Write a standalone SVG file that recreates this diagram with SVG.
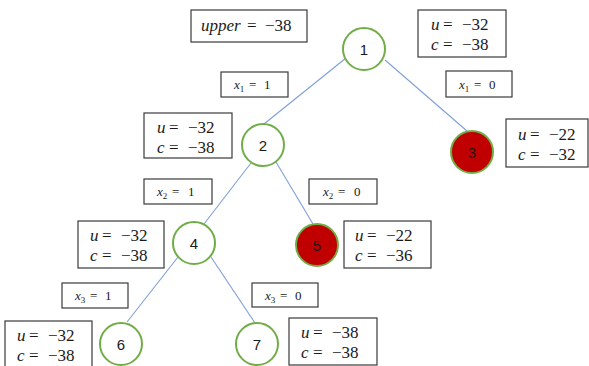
<svg xmlns="http://www.w3.org/2000/svg" width="589" height="366" viewBox="0 0 589 366">
<style>
.bg{fill:#ffffff}
.box{fill:#ffffff;stroke:#3a3a3a;stroke-width:1.2}
.node{fill:#ffffff;stroke:#70ad47;stroke-width:2}
.node.pruned{fill:#c00000}
.nl{font-family:"Liberation Sans","DejaVu Sans",sans-serif;font-size:15px;fill:#1a1a1a;text-anchor:middle}
.m{font-family:"Liberation Serif","DejaVu Serif",serif;font-size:17px;fill:#1a1a1a}
.s{font-family:"Liberation Serif","DejaVu Serif",serif;font-size:13px;fill:#1a1a1a}
.v{font-style:italic}
.sub{font-size:9px}
.edge{stroke:#7f9fd8;stroke-width:1.1;fill:none}
</style>
<rect class="bg" x="0" y="0" width="589" height="366"/>
<g id="connectors">
<line class="edge" x1="346" y1="58" x2="264" y2="124"/>
<line class="edge" x1="385" y1="60" x2="467" y2="131"/>
<line class="edge" x1="251" y1="163" x2="204" y2="224"/>
<line class="edge" x1="276" y1="162" x2="313" y2="224"/>
<line class="edge" x1="178" y1="257" x2="127" y2="322"/>
<line class="edge" x1="211" y1="257" x2="255" y2="323"/>
</g>
<g id="upper">
<rect class="box" x="191" y="10" width="116" height="32"/>
<text class="m" y="31"><tspan class="v" x="201">upper</tspan><tspan x="247">=</tspan><tspan x="265">−38</tspan></text>
</g>
<g id="node1">
<circle class="node" cx="364" cy="49" r="21"/>
<text class="nl" x="364" y="55">1</text>
</g>
<g id="node1-info">
<rect class="box" x="418" y="10" width="88" height="47"/>
<text class="m" y="30"><tspan class="v" x="431">u</tspan><tspan x="443">=</tspan><tspan x="462">−32</tspan></text>
<text class="m" y="50"><tspan class="v" x="431">c</tspan><tspan x="443">=</tspan><tspan x="462">−38</tspan></text>
</g>
<g id="label-x1-1">
<rect class="box" x="221" y="72" width="67" height="25"/>
<text class="s" y="89"><tspan class="v" x="234">x</tspan><tspan class="sub" dy="3">1</tspan><tspan x="249" dy="-3">=</tspan><tspan x="264">1</tspan></text>
</g>
<g id="label-x1-0">
<rect class="box" x="446" y="71" width="66" height="26"/>
<text class="s" y="89"><tspan class="v" x="459">x</tspan><tspan class="sub" dy="3">1</tspan><tspan x="474" dy="-3">=</tspan><tspan x="489">0</tspan></text>
</g>
<g id="node2">
<circle class="node" cx="263" cy="145" r="21"/>
<text class="nl" x="263" y="151">2</text>
</g>
<g id="node2-info">
<rect class="box" x="144" y="113" width="88" height="45"/>
<text class="m" y="133"><tspan class="v" x="157">u</tspan><tspan x="169">=</tspan><tspan x="188">−32</tspan></text>
<text class="m" y="153"><tspan class="v" x="157">c</tspan><tspan x="169">=</tspan><tspan x="188">−38</tspan></text>
</g>
<g id="node3">
<circle class="node pruned" cx="472" cy="152" r="21"/>
<text class="nl" x="472" y="158">3</text>
</g>
<g id="node3-info">
<rect class="box" x="506" y="119" width="82" height="48"/>
<text class="m" y="140"><tspan class="v" x="518">u</tspan><tspan x="530">=</tspan><tspan x="549">−22</tspan></text>
<text class="m" y="160"><tspan class="v" x="518">c</tspan><tspan x="530">=</tspan><tspan x="549">−32</tspan></text>
</g>
<g id="label-x2-1">
<rect class="box" x="144" y="179" width="68" height="25"/>
<text class="s" y="196"><tspan class="v" x="157">x</tspan><tspan class="sub" dy="3">2</tspan><tspan x="172" dy="-3">=</tspan><tspan x="188">1</tspan></text>
</g>
<g id="label-x2-0">
<rect class="box" x="309" y="179" width="68" height="25"/>
<text class="s" y="196"><tspan class="v" x="323">x</tspan><tspan class="sub" dy="3">2</tspan><tspan x="338" dy="-3">=</tspan><tspan x="354">0</tspan></text>
</g>
<g id="node4">
<circle class="node" cx="194" cy="243" r="21"/>
<text class="nl" x="194" y="249">4</text>
</g>
<g id="node4-info">
<rect class="box" x="78" y="221" width="86" height="47"/>
<text class="m" y="241"><tspan class="v" x="90">u</tspan><tspan x="102">=</tspan><tspan x="121">−32</tspan></text>
<text class="m" y="261"><tspan class="v" x="90">c</tspan><tspan x="102">=</tspan><tspan x="121">−38</tspan></text>
</g>
<g id="node5">
<circle class="node pruned" cx="317" cy="245" r="21"/>
<text class="nl" x="317" y="251">5</text>
</g>
<g id="node5-info">
<rect class="box" x="344" y="221" width="87" height="47"/>
<text class="m" y="241"><tspan class="v" x="355">u</tspan><tspan x="367">=</tspan><tspan x="386">−22</tspan></text>
<text class="m" y="261"><tspan class="v" x="355">c</tspan><tspan x="367">=</tspan><tspan x="386">−36</tspan></text>
</g>
<g id="label-x3-1">
<rect class="box" x="62" y="283" width="66" height="25"/>
<text class="s" y="300"><tspan class="v" x="75">x</tspan><tspan class="sub" dy="3">3</tspan><tspan x="90" dy="-3">=</tspan><tspan x="105">1</tspan></text>
</g>
<g id="label-x3-0">
<rect class="box" x="252" y="283" width="66" height="24"/>
<text class="s" y="300"><tspan class="v" x="265">x</tspan><tspan class="sub" dy="3">3</tspan><tspan x="280" dy="-3">=</tspan><tspan x="295">0</tspan></text>
</g>
<g id="node6">
<circle class="node" cx="121" cy="344" r="21"/>
<text class="nl" x="121" y="350">6</text>
</g>
<g id="node6-info">
<rect class="box" x="5" y="321" width="87" height="50"/>
<text class="m" y="341"><tspan class="v" x="17">u</tspan><tspan x="29">=</tspan><tspan x="48">−32</tspan></text>
<text class="m" y="361"><tspan class="v" x="17">c</tspan><tspan x="29">=</tspan><tspan x="48">−38</tspan></text>
</g>
<g id="node7">
<circle class="node" cx="257" cy="344" r="21"/>
<text class="nl" x="257" y="350">7</text>
</g>
<g id="node7-info">
<rect class="box" x="289" y="318" width="88" height="47"/>
<text class="m" y="338"><tspan class="v" x="301">u</tspan><tspan x="313">=</tspan><tspan x="332">−38</tspan></text>
<text class="m" y="358"><tspan class="v" x="301">c</tspan><tspan x="313">=</tspan><tspan x="332">−38</tspan></text>
</g>
</svg>
